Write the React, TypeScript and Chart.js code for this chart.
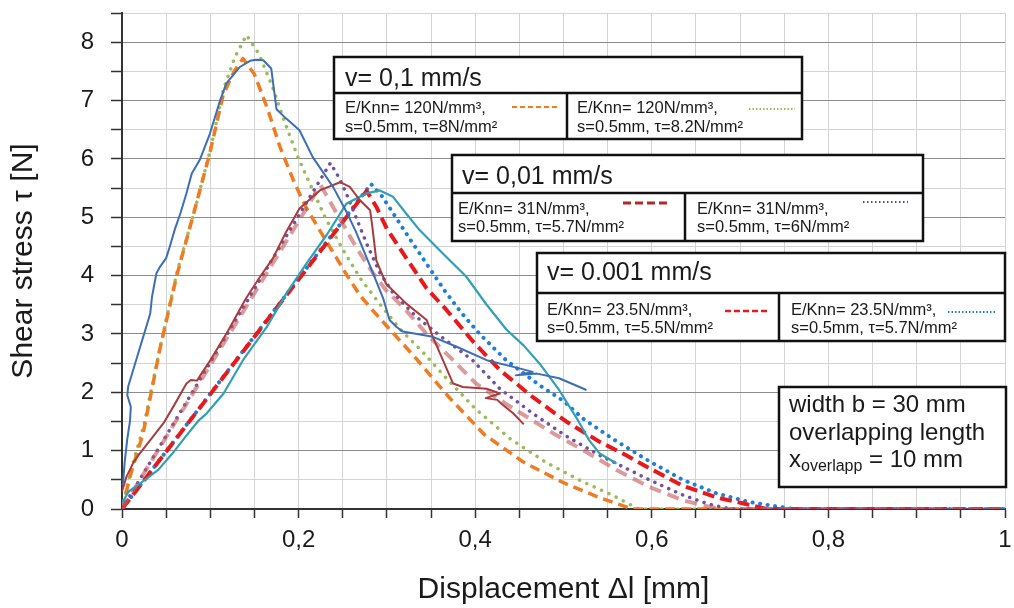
import React, { useEffect, useRef } from 'react';
import { Chart, registerables } from 'chart.js';
Chart.register(...registerables);

// ---------- data ----------
const xTickLabels = ['0', '0,2', '0,4', '0,6', '0,8', '1'];
const yTickLabels = ['0', '1', '2', '3', '4', '5', '6', '7', '8'];

// v = 0,1 mm/s simulation E/Knn=120, tau=8 (orange dashed)
const orangeSimX = [0, 0.009, 0.024, 0.043, 0.062, 0.08, 0.0995, 0.1146, 0.127, 0.137, 0.15, 0.165, 0.179, 0.195, 0.209, 0.225, 0.239, 0.255, 0.27, 0.29, 0.305, 0.333, 0.37, 0.41, 0.455, 0.5, 0.54, 0.578, 1];
const orangeSimY = [0, 0.55, 1.3, 2.75, 4.0, 5.0, 6.1, 7.1, 7.5, 7.72, 7.45, 6.85, 6.2, 5.6, 5.15, 4.75, 4.4, 4.0, 3.65, 3.3, 3.05, 2.58, 1.92, 1.28, 0.8, 0.45, 0.2, 0, 0];
// v = 0,1 mm/s simulation E/Knn=120, tau=8.2 (green dotted)
const greenSimX = [0, 0.01, 0.025, 0.045, 0.063, 0.082, 0.1, 0.115, 0.128, 0.141, 0.155, 0.17, 0.185, 0.2, 0.215, 0.23, 0.25, 0.27, 0.29, 0.315, 0.34, 0.365, 0.4, 0.44, 0.48, 0.52, 0.555, 0.585, 1];
const greenSimY = [0, 0.65, 1.45, 2.9, 4.1, 5.1, 6.15, 7.2, 7.75, 8.12, 7.8, 7.25, 6.6, 6.0, 5.5, 5.0, 4.45, 3.95, 3.55, 3.08, 2.7, 2.28, 1.72, 1.2, 0.8, 0.48, 0.24, 0, 0];
// v = 0,1 mm/s experiment (blue solid)
const blueExpX = [0.001, 0.003, 0.006, 0.009, 0.01, 0.006, 0.007, 0.013, 0.02, 0.024, 0.032, 0.034, 0.039, 0.043, 0.05, 0.054, 0.06, 0.066, 0.073, 0.079, 0.088, 0.0995, 0.11, 0.118, 0.133, 0.145, 0.152, 0.16, 0.169, 0.175, 0.186, 0.201, 0.216, 0.239, 0.254, 0.265, 0.284, 0.296, 0.303, 0.311, 0.318, 0.352, 0.379, 0.413, 0.45, 0.465, 0.446, 0.47, 0.495, 0.526];
const blueExpY = [0.4, 0.8, 1.2, 1.5, 1.75, 1.95, 2.1, 2.4, 2.75, 2.95, 3.35, 3.64, 4.04, 4.15, 4.3, 4.49, 4.8, 5.06, 5.41, 5.75, 5.98, 6.43, 6.95, 7.29, 7.57, 7.68, 7.7, 7.69, 7.55, 6.85, 6.69, 6.49, 6.03, 5.52, 5.1, 4.75, 4.05, 3.6, 3.24, 3.12, 3.04, 2.95, 2.78, 2.55, 2.41, 2.35, 2.29, 2.32, 2.24, 2.04];
// v = 0,01 mm/s experiment (dark red solid)
const redExpX = [0, 0.005, 0.013, 0.02, 0.032, 0.047, 0.058, 0.073, 0.078, 0.085, 0.09, 0.1, 0.12, 0.14, 0.155, 0.171, 0.186, 0.201, 0.224, 0.247, 0.258, 0.269, 0.281, 0.284, 0.288, 0.299, 0.322, 0.345, 0.352, 0.375, 0.386, 0.413, 0.428, 0.412, 0.425, 0.43, 0.443, 0.455];
const redExpY = [0.3, 0.55, 0.8, 0.95, 1.18, 1.47, 1.75, 2.15, 2.21, 2.2, 2.32, 2.55, 3.05, 3.6, 3.95, 4.3, 4.75, 5.15, 5.46, 5.6, 5.52, 5.3, 5.12, 4.78, 4.26, 3.86, 3.52, 3.24, 2.95, 2.15, 2.09, 2.06, 1.98, 1.9, 1.87, 1.8, 1.64, 1.45];
// v = 0,01 mm/s simulation E/Knn=31, tau=5.7 (dark red dashed, pale in plot)
const pinkSimX = [0, 0.225, 0.24, 0.25, 0.265, 0.284, 0.299, 0.322, 0.345, 0.375, 0.401, 0.435, 0.488, 0.522, 0.56, 0.597, 0.635, 0.665, 0.68, 1];
const pinkSimY = [0, 5.55, 5.15, 4.89, 4.49, 4.05, 3.75, 3.4, 3.0, 2.55, 2.15, 1.8, 1.3, 1.01, 0.67, 0.38, 0.15, 0.04, 0, 0];
// v = 0,01 mm/s simulation E/Knn=31, tau=6 (purple dotted)
const purpleSimX = [0, 0.236, 0.245, 0.254, 0.265, 0.277, 0.292, 0.307, 0.333, 0.36, 0.397, 0.428, 0.465, 0.503, 0.541, 0.56, 0.597, 0.635, 0.665, 0.69, 1];
const purpleSimY = [0, 5.93, 5.7, 5.41, 5.0, 4.55, 4.05, 3.7, 3.3, 2.97, 2.55, 2.06, 1.64, 1.25, 0.92, 0.78, 0.5, 0.24, 0.08, 0, 0];
// v = 0.001 mm/s simulation E/Knn=23.5, tau=5.5 (red dashed)
const redSimX = [0, 0.277, 0.288, 0.3, 0.322, 0.345, 0.367, 0.397, 0.428, 0.465, 0.503, 0.541, 0.57, 0.597, 0.635, 0.673, 0.705, 0.73, 1];
const redSimY = [0, 5.45, 5.18, 4.8, 4.3, 3.78, 3.42, 2.88, 2.38, 1.92, 1.5, 1.15, 0.93, 0.7, 0.4, 0.2, 0.09, 0, 0];
// v = 0.001 mm/s simulation E/Knn=23.5, tau=5.7 (blue dotted)
const blueSimX = [0, 0.282, 0.295, 0.31, 0.325, 0.345, 0.365, 0.385, 0.405, 0.435, 0.473, 0.5, 0.522, 0.556, 0.597, 0.635, 0.673, 0.71, 0.748, 0.76, 1];
const blueSimY = [0, 5.57, 5.35, 5.0, 4.65, 4.2, 3.75, 3.35, 3.0, 2.55, 2.12, 1.85, 1.55, 1.2, 0.82, 0.5, 0.27, 0.12, 0.03, 0, 0];
// v = 0.001 mm/s experiment (teal solid)
const tealExpX = [0, 0.0075, 0.015, 0.026, 0.041, 0.057, 0.072, 0.087, 0.096, 0.115, 0.137, 0.164, 0.186, 0.209, 0.232, 0.254, 0.277, 0.292, 0.307, 0.322, 0.337, 0.36, 0.39, 0.413, 0.435, 0.455, 0.473, 0.495, 0.514, 0.529, 0.541, 0.56];
const tealExpY = [0.1, 0.3, 0.38, 0.5, 0.67, 0.95, 1.24, 1.52, 1.64, 1.98, 2.55, 3.12, 3.69, 4.21, 4.7, 5.23, 5.41, 5.46, 5.35, 5.06, 4.78, 4.43, 3.98, 3.5, 3.08, 2.8, 2.49, 2.04, 1.58, 1.18, 0.95, 0.78];

// legend texts
const groupTitles = ['v= 0,1 mm/s', 'v= 0,01 mm/s', 'v= 0.001 mm/s'];
const cellLine1 = ['E/Knn= 120N/mm³,', 'E/Knn= 120N/mm³,', 'E/Knn= 31N/mm³,', 'E/Knn= 31N/mm³,', 'E/Knn= 23.5N/mm³,', 'E/Knn= 23.5N/mm³,'];
const cellLine2 = ['s=0.5mm, τ=8N/mm²', 's=0.5mm, τ=8.2N/mm²', 's=0.5mm, τ=5.7N/mm²', 's=0.5mm, τ=6N/mm²', 's=0.5mm, τ=5.5N/mm²', 's=0.5mm, τ=5.7N/mm²'];

const pts = (xs: number[], ys: number[]) => xs.map((x, i) => ({ x, y: ys[i] }));

const FONT = '"Liberation Sans", Arial, sans-serif';

// ---------- layout / styles ----------
const boxes = [
  { l: 334, r: 802, t: 57, m: 93, b: 139, d: 567, hx: 345, hy: 86, cx1: 345, cx2: 577, l1: 113, l2: 132 },
  { l: 452, r: 923, t: 155, m: 193, b: 241, d: 685, hx: 462, hy: 184, cx1: 458, cx2: 697, l1: 214, l2: 232 },
  { l: 537, r: 1005, t: 253, m: 293, b: 341, d: 779, hx: 547, hy: 280, cx1: 547, cx2: 791, l1: 315, l2: 333 },
];
const samples = [
  { x1: 512, x2: 557, y: 107, color: '#ef7b22', w: 2, dash: '5 3' },
  { x1: 749, x2: 795, y: 109, color: '#9bbb59', w: 2, dash: '1.5 2' },
  { x1: 623, x2: 670, y: 203, color: '#b02a2a', w: 3, dash: '8 4' },
  { x1: 863, x2: 908, y: 202, color: '#6040a0', w: 2, dash: '1.5 2.5' },
  { x1: 725, x2: 770, y: 311, color: '#e8191b', w: 2.5, dash: '6 3' },
  { x1: 948, x2: 995, y: 312, color: '#1f7fd8', w: 2, dash: '1.5 2' },
];

export default function App() {
  const ref = useRef<HTMLCanvasElement>(null);

  useEffect(() => {
    document.body.style.margin = '0';
    const line = (data: any, color: string, width: number, dash: number[] = [], round = false) => ({
      data,
      showLine: true,
      borderColor: color,
      backgroundColor: color,
      borderWidth: width,
      borderDash: dash,
      borderCapStyle: round ? 'round' : 'butt',
      borderJoinStyle: 'round',
      pointRadius: 0,
      fill: false,
      tension: 0,
    });
    const chart = new Chart(ref.current as HTMLCanvasElement, {
      type: 'scatter',
      data: {
        datasets: [
          line(pts(blueExpX, blueExpY), '#3d6eb4', 2),
          line(pts(redExpX, redExpY), '#a83c3c', 2),
          line(pts(tealExpX, tealExpY), '#31a0b5', 2.2),
          line(pts(pinkSimX, pinkSimY), 'rgba(196,89,89,0.6)', 4, [12, 7]),
          line(pts(purpleSimX, purpleSimY), '#7050a0', 3.5, [0.1, 7.5], true),
          line(pts(redSimX, redSimY), '#e8191b', 4, [12, 6]),
          line(pts(blueSimX, blueSimY), '#1f7fd8', 4, [0.1, 7.5], true),
          line(pts(orangeSimX, orangeSimY), '#ef7b22', 3.5, [10, 6]),
          line(pts(greenSimX, greenSimY), '#9bbb59', 3.5, [0.1, 8], true),
        ] as any,
      },
      options: {
        animation: false,
        responsive: false,
        devicePixelRatio: 1,
        layout: { padding: { top: 13, right: 9, left: 0, bottom: 0 } },
        plugins: { legend: { display: false }, tooltip: { enabled: false } },
        scales: {
          x: {
            type: 'linear',
            min: 0,
            max: 1,
            afterFit: (s: any) => { s.height = 99; s.paddingLeft = 0; s.paddingRight = 0; },
            border: { display: true, color: '#333', width: 2 },
            grid: { color: '#d4d4d4', lineWidth: 1, tickLength: 9, tickColor: '#333', tickWidth: 1.5 },
            ticks: {
              stepSize: 0.05,
              autoSkip: false,
              maxRotation: 0,
              padding: 8,
              color: '#1a1a1a',
              font: { family: FONT, size: 24 },
              callback: (v: any) => {
                const r = Math.round(Number(v) * 100);
                return r % 20 === 0 ? xTickLabels[r / 20] : '';
              },
            },
            title: { display: true, text: 'Displacement Δl [mm]', color: '#1a1a1a', font: { family: FONT, size: 30 }, padding: { top: 10, bottom: 0 } },
          },
          y: {
            type: 'linear',
            min: 0,
            max: 8.5,
            afterFit: (s: any) => { s.width = 122; s.paddingTop = 0; s.paddingBottom = 0; },
            border: { display: true, color: '#333', width: 2 },
            grid: {
              color: (c: any) => (Math.abs(c.tick.value % 1) < 1e-6 ? '#8c8c8c' : '#d4d4d4'),
              lineWidth: 1,
              tickLength: 11,
              tickColor: '#333',
              tickWidth: 1.5,
            },
            ticks: {
              stepSize: 0.5,
              autoSkip: false,
              padding: 17,
              color: '#1a1a1a',
              font: { family: FONT, size: 24 },
              callback: (v: any) => {
                const n = Number(v);
                return Math.abs(n - Math.round(n)) < 1e-6 ? yTickLabels[Math.round(n)] : '';
              },
            },
            title: { display: true, text: 'Shear stress τ [N]', color: '#1a1a1a', font: { family: FONT, size: 30 }, padding: { top: 6, bottom: 0 } },
          },
        },
      } as any,
    });
    return () => chart.destroy();
  }, []);

  return (
    <div style={{ position: 'absolute', left: 0, top: 0, width: 1014, height: 608, background: '#fff' }}>
      <canvas ref={ref} width={1014} height={608} style={{ position: 'absolute', left: 0, top: 0 }} />
      <svg width={1014} height={608} style={{ position: 'absolute', left: 0, top: 0, pointerEvents: 'none' }} fontFamily={FONT} fill="#1a1a1a">
        {boxes.map((b, i) => (
          <g key={i}>
            <rect x={b.l} y={b.t} width={b.r - b.l} height={b.b - b.t} fill="#fff" stroke="#111" strokeWidth={2.5} />
            <line x1={b.l} x2={b.r} y1={b.m} y2={b.m} stroke="#111" strokeWidth={2.5} />
            <line x1={b.d} x2={b.d} y1={b.m} y2={b.b} stroke="#111" strokeWidth={2.5} />
            <text x={b.hx} y={b.hy} fontSize={25}>{groupTitles[i]}</text>
            <text x={b.cx1} y={b.l1} fontSize={16.5}>{cellLine1[2 * i]}</text>
            <text x={b.cx1} y={b.l2} fontSize={16.5}>{cellLine2[2 * i]}</text>
            <text x={b.cx2} y={b.l1} fontSize={16.5}>{cellLine1[2 * i + 1]}</text>
            <text x={b.cx2} y={b.l2} fontSize={16.5}>{cellLine2[2 * i + 1]}</text>
          </g>
        ))}
        {samples.map((s, i) => (
          <line key={i} x1={s.x1} x2={s.x2} y1={s.y} y2={s.y} stroke={s.color} strokeWidth={s.w} strokeDasharray={s.dash} />
        ))}
        <rect x={779} y={387} width={227} height={100} fill="#fff" stroke="#111" strokeWidth={2.5} />
        <text x={789} y={412} fontSize={24}>width b = 30 mm</text>
        <text x={789} y={440} fontSize={24}>overlapping length</text>
        <text x={789} y={467} fontSize={24}>
          x<tspan fontSize={16} dy={4}>overlapp</tspan><tspan dy={-4}> = 10 mm</tspan>
        </text>
      </svg>
    </div>
  );
}
